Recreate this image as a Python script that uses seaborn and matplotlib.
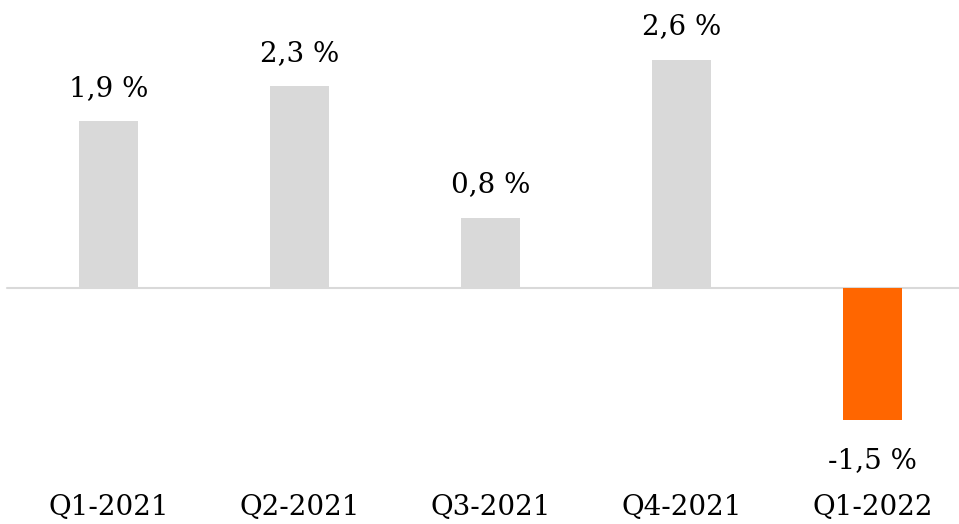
import pandas as pd
import seaborn as sns
import matplotlib.pyplot as plt

quarters = ["Q1-2021", "Q2-2021", "Q3-2021", "Q4-2021", "Q1-2022"]
growth = [1.9, 2.3, 0.8, 2.6, -1.5]
labels = ["1,9 %", "2,3 %", "0,8 %", "2,6 %", "-1,5 %"]

df = pd.DataFrame({"quarter": quarters, "growth": growth})
df["sign"] = ["neg" if v < 0 else "pos" for v in growth]

sns.set_style("white")
plt.rcParams['font.family'] = ['DejaVu Serif']
plt.rcParams['text.color'] = 'black'
plt.rcParams['xtick.color'] = 'black'

fig = plt.figure(figsize=(9.59, 5.24), dpi=100)
ax = fig.add_axes([0, 44 / 524, 1, 480 / 524])

palette = {"pos": "#d9d9d9", "neg": "#ff6600"}
sns.barplot(data=df, x="quarter", y="growth", hue="sign", palette=palette,
            width=0.31, dodge=False, legend=False, saturation=1,
            linewidth=0, ax=ax)

# zero line
ax.axhline(0, xmin=7 / 959, xmax=1, color="#d9d9d9", lw=1.5, zorder=0)

# value labels
for i, (v, lab) in enumerate(zip(growth, labels)):
    if v >= 0:
        ax.annotate(lab, (i, v), xytext=(0, 14), textcoords="offset points",
                    ha="center", va="bottom", fontsize=20)
    else:
        ax.annotate(lab, (i, v), xytext=(0, -20), textcoords="offset points",
                    ha="center", va="top", fontsize=20)

ax.set_xlim(-0.568, 4.453)
ax.set_ylim(-2.189, 3.284)
ax.set_yticks([])
ax.set_xlabel("")
ax.set_ylabel("")
ax.tick_params(axis="x", length=0, labelsize=20, pad=10, labelcolor="black")
for s in ax.spines.values():
    s.set_visible(False)

plt.savefig("out.png", dpi=100)
